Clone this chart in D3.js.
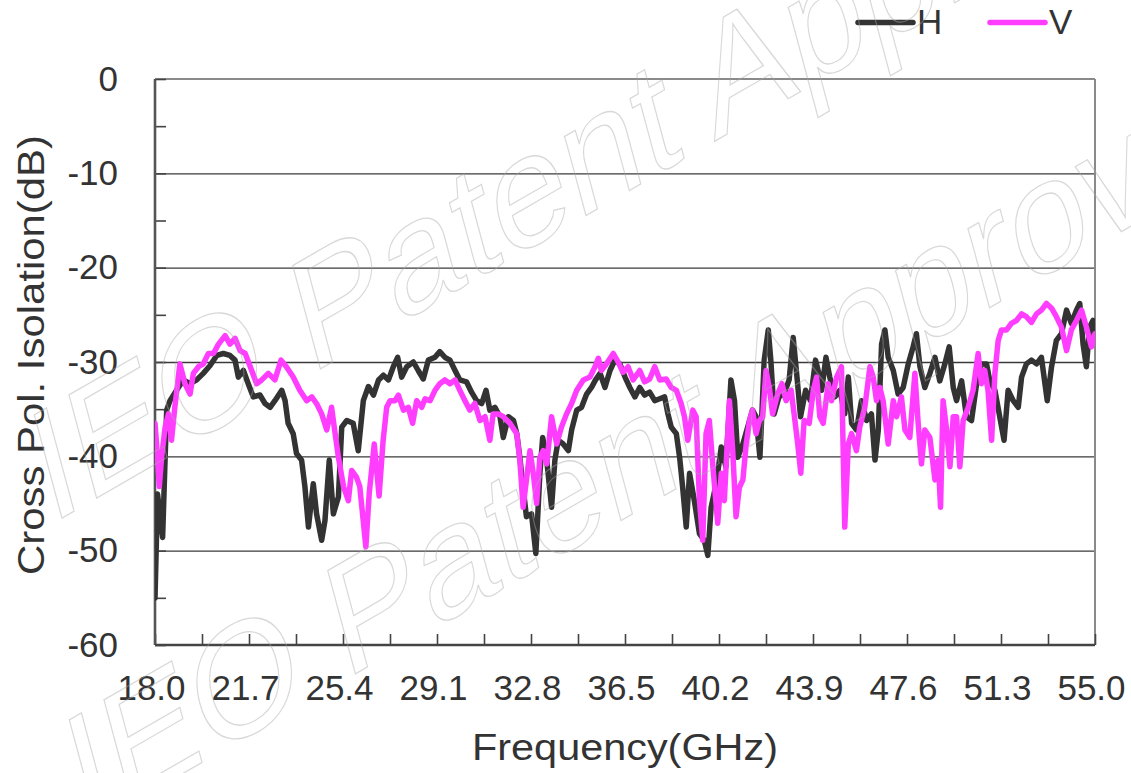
<!DOCTYPE html>
<html>
<head>
<meta charset="utf-8">
<script src="https://cdn.jsdelivr.net/npm/d3@7"></script>
<style>
    body { margin: 0; background: #fff; }
    text { font-family: "Liberation Sans", Arial, sans-serif; }
</style>
</head>
<body>
<script>
'use strict';

const plotWidth = 1131;
const plotHeight = 773;
const paddingLeft = 155;
const paddingRight = 36;
const paddingTop = 79;
const paddingBottom = 128;

// H polarisation, frequency (GHz) and isolation (dB)
let hFreq = [18.0, 18.1, 18.3, 18.4, 18.46, 18.59, 18.85, 19.11, 19.38, 19.64, 19.9, 20.16, 20.43, 20.69, 20.95,
    21.15, 21.28, 21.48, 21.67, 21.87, 22.13, 22.33, 22.53, 22.72, 22.99, 23.12, 23.24, 23.44, 23.57, 23.77,
    23.9, 24.04, 24.23, 24.36, 24.56, 24.69, 24.86, 25.02, 25.22, 25.35, 25.55, 25.8, 26.0, 26.2, 26.4,
    26.6, 26.8, 26.99, 27.19, 27.38, 27.55, 27.71, 27.91, 28.17, 28.36, 28.56, 28.76, 29.02, 29.21, 29.41,
    29.61, 29.81, 30.0, 30.26, 30.46, 30.66, 30.86, 31.03, 31.18, 31.38, 31.58, 31.71, 31.91, 32.11, 32.24,
    32.36, 32.49, 32.62, 32.82, 32.99, 33.15, 33.26, 33.42, 33.61, 33.74, 33.87, 34.07, 34.27, 34.4, 34.6,
    34.79, 34.99, 35.18, 35.34, 35.52, 35.71, 35.91, 36.1, 36.3, 36.5, 36.69, 36.89, 37.08, 37.27, 37.47,
    37.67, 37.87, 38.06, 38.19, 38.32, 38.52, 38.65, 38.77, 38.91, 39.04, 39.23, 39.43, 39.62, 39.76, 39.89,
    40.09, 40.29, 40.47, 40.67, 40.81, 40.94, 41.14, 41.33, 41.52, 41.66, 41.81, 41.98, 42.14, 42.24, 42.37,
    42.56, 42.76, 42.96, 43.12, 43.28, 43.41, 43.61, 43.8, 44.0, 44.13, 44.24, 44.41, 44.56, 44.76, 44.96,
    45.15, 45.29, 45.42, 45.61, 45.81, 46.01, 46.2, 46.34, 46.47, 46.6, 46.73, 46.86, 47.06, 47.25, 47.45,
    47.65, 47.84, 47.97, 48.11, 48.3, 48.5, 48.7, 48.89, 49.09, 49.26, 49.42, 49.55, 49.75, 49.94, 50.14,
    50.34, 50.53, 50.73, 50.86, 51.06, 51.25, 51.42, 51.58, 51.78, 51.98, 52.11, 52.3, 52.5, 52.7, 52.89,
    53.12, 53.29, 53.48, 53.68, 53.88, 54.07, 54.27, 54.4, 54.53, 54.66, 54.79, 54.92, 55.0];
let hIso = [-55, -44, -48.6, -40, -35.1, -34.1, -33.0, -31.9, -32.3, -31.9, -31.2, -30.4, -29.3, -29.1, -29.3,
    -29.8, -31.6, -30.9, -32.3, -33.7, -33.5, -34.4, -34.8, -34.1, -33.0, -34.1, -36.5, -37.6, -39.7, -40.4,
    -43.2, -47.5, -42.9, -46.1, -48.9, -46.8, -40.4, -46.1, -44.3, -36.9, -36.2, -36.5, -39.4, -34.1, -32.6,
    -33.5, -31.9, -31.4, -31.9, -30.5, -29.5, -31.6, -30.5, -30.0, -30.9, -31.8, -29.8, -29.5, -28.9, -29.5,
    -29.8, -30.9, -31.9, -32.1, -33.2, -34.1, -34.4, -33.0, -35.1, -34.8, -35.8, -38.0, -35.8, -36.2, -37.6,
    -40.1, -43.3, -46.4, -46.1, -50.3, -41.8, -38.0, -40.4, -45.4, -40.4, -38.3, -38.7, -39.4, -37.2, -35.1,
    -34.8, -33.4, -32.7, -31.9, -31.2, -32.7, -30.9, -29.8, -30.2, -31.6, -32.7, -33.7, -32.7, -33.5, -33.2,
    -34.1, -33.9, -33.7, -35.5, -36.9, -37.6, -40.1, -43.3, -47.5, -41.8, -44.7, -48.2, -48.9, -50.5, -45.4,
    -42.9, -39.0, -41.1, -31.9, -34.1, -40.1, -38.7, -36.9, -35.1, -35.8, -40.1, -29.8, -26.6, -29.8, -35.5,
    -33.7, -33.4, -31.9, -27.4, -31.9, -35.8, -33.0, -34.1, -29.8, -31.2, -33.0, -29.5, -31.6, -33.7, -33.0,
    -35.5, -31.6, -36.5, -37.2, -34.1, -36.2, -35.5, -40.4, -37.2, -28.1, -26.6, -29.5, -30.9, -33.4, -32.7,
    -30.2, -28.4, -27.0, -30.5, -32.7, -31.2, -29.5, -32.0, -30.2, -28.4, -32.7, -34.1, -32.0, -35.8, -36.2,
    -32.3, -30.2, -30.2, -32.0, -33.0, -35.8, -38.3, -33.0, -34.1, -34.8, -31.6, -30.2, -29.8, -30.2, -29.5,
    -34.1, -30.5, -27.7, -27.0, -24.5, -25.9, -24.5, -23.8, -28.1, -30.5, -26.3, -25.6, -27.0];

// V polarisation
let vFreq = [18.0, 18.07, 18.17, 18.26, 18.4, 18.53, 18.65, 18.78, 18.98, 19.18, 19.38, 19.51, 19.71, 19.9, 20.1,
    20.3, 20.5, 20.76, 20.95, 21.15, 21.35, 21.55, 21.75, 22.0, 22.2, 22.46, 22.72, 22.96, 23.17, 23.44,
    23.7, 23.97, 24.17, 24.36, 24.56, 24.76, 24.95, 25.09, 25.22, 25.42, 25.61, 25.74, 25.93, 26.06, 26.3,
    26.43, 26.63, 26.82, 26.98, 27.12, 27.25, 27.45, 27.58, 27.78, 27.97, 28.14, 28.3, 28.5, 28.63, 28.83,
    29.02, 29.21, 29.41, 29.61, 29.81, 30.0, 30.2, 30.39, 30.59, 30.79, 30.99, 31.18, 31.31, 31.51, 31.71,
    31.97, 32.24, 32.36, 32.49, 32.62, 32.76, 32.89, 33.02, 33.15, 33.28, 33.42, 33.61, 33.81, 34.0, 34.2,
    34.4, 34.6, 34.86, 35.12, 35.32, 35.45, 35.57, 35.77, 36.04, 36.23, 36.42, 36.62, 36.82, 37.08, 37.27,
    37.47, 37.67, 37.87, 38.12, 38.32, 38.52, 38.71, 38.84, 38.97, 39.17, 39.3, 39.43, 39.56, 39.69, 39.82,
    39.96, 40.15, 40.29, 40.41, 40.61, 40.74, 40.87, 41.0, 41.14, 41.27, 41.4, 41.52, 41.66, 41.79, 41.92,
    42.05, 42.18, 42.31, 42.51, 42.68, 42.84, 43.04, 43.17, 43.3, 43.42, 43.55, 43.75, 43.91, 44.04, 44.17,
    44.3, 44.5, 44.63, 44.83, 45.02, 45.15, 45.29, 45.42, 45.61, 45.74, 45.94, 46.14, 46.27, 46.4, 46.53,
    46.66, 46.86, 47.06, 47.19, 47.38, 47.52, 47.71, 47.91, 48.04, 48.17, 48.3, 48.5, 48.7, 48.83, 48.92,
    49.02, 49.16, 49.29, 49.42, 49.55, 49.68, 49.81, 50.01, 50.2, 50.4, 50.53, 50.66, 50.79, 50.93, 51.06,
    51.19, 51.32, 51.52, 51.71, 51.91, 52.11, 52.3, 52.5, 52.7, 52.89, 53.09, 53.29, 53.48, 53.68, 53.88,
    54.07, 54.27, 54.47, 54.66, 54.86, 55.0];
let vIso = [-36.5, -39.0, -43.2, -40.1, -36.9, -35.5, -38.3, -34.8, -30.2, -32.3, -33.4, -31.2, -30.5, -30.2, -29.1,
    -29.1, -28.1, -27.2, -28.1, -27.5, -28.8, -29.1, -30.5, -32.3, -31.9, -31.2, -31.9, -29.8, -30.5, -31.6,
    -33.0, -34.1, -33.7, -34.4, -35.5, -37.2, -34.8, -37.6, -40.1, -43.2, -44.7, -41.5, -42.2, -43.2, -49.6,
    -44.0, -38.7, -44.2, -38.3, -34.8, -34.1, -34.1, -33.5, -35.1, -34.8, -36.5, -34.1, -34.8, -33.9, -34.1,
    -33.0, -32.3, -31.9, -32.3, -31.9, -33.0, -34.1, -35.1, -34.4, -36.2, -35.8, -38.3, -35.5, -35.5, -35.8,
    -36.5, -37.6, -40.4, -45.4, -42.5, -39.4, -41.8, -45.0, -40.1, -39.4, -40.8, -35.8, -38.7, -36.9, -35.5,
    -34.4, -33.0, -31.9, -31.6, -30.5, -29.6, -30.9, -30.2, -29.1, -30.0, -31.1, -30.5, -31.9, -30.9, -32.1,
    -31.8, -30.5, -31.9, -31.8, -32.7, -33.0, -34.4, -35.8, -38.3, -35.1, -35.8, -44.7, -48.9, -37.6, -36.2,
    -41.1, -47.1, -41.8, -44.7, -34.1, -39.4, -46.4, -43.3, -42.5, -38.7, -36.2, -35.1, -37.6, -36.2, -35.8,
    -30.9, -32.7, -35.5, -33.4, -32.3, -34.1, -33.0, -35.8, -38.7, -41.8, -36.2, -36.5, -33.0, -31.6, -35.8,
    -36.5, -32.3, -34.1, -31.6, -30.5, -47.5, -38.7, -37.6, -39.4, -36.9, -34.8, -30.5, -31.6, -34.1, -32.7,
    -34.1, -38.7, -34.1, -35.8, -33.7, -37.2, -38.0, -31.2, -36.5, -40.8, -37.2, -38.0, -42.5, -40.4, -45.4,
    -34.1, -37.2, -41.1, -35.8, -35.8, -41.1, -36.2, -34.8, -33.0, -29.1, -32.3, -30.9, -33.0, -38.3, -31.2,
    -27.7, -26.6, -26.6, -25.9, -25.6, -24.9, -25.2, -25.8, -24.9, -24.5, -23.8, -24.3, -25.2, -26.3, -28.8,
    -26.6, -25.6, -24.5, -26.3, -28.4, -27.0];

let xLabels = [18.0, 21.7, 25.4, 29.1, 32.8, 36.5, 40.2, 43.9, 47.6, 51.3, 55.0];
let xMinor = [18.0, 19.85, 21.7, 23.55, 25.4, 27.25, 29.1, 30.95, 32.8, 34.65, 36.5, 38.35, 40.2, 42.05,
    43.9, 45.75, 47.6, 49.45, 51.3, 53.15, 55.0];
let yLabels = [0, -10, -20, -30, -40, -50, -60];
let yMinor = [0, -5, -10, -15, -20, -25, -30, -35, -40, -45, -50, -55, -60];

let series = [
    { name: 'H', freq: hFreq, iso: hIso, color: '#333333' },
    { name: 'V', freq: vFreq, iso: vIso, color: '#ff3dff' }
];

let svg = d3.select("body").append("svg").attr('width', plotWidth).attr('height', plotHeight);

let xScale = d3.scaleLinear().domain([18, 55]).range([paddingLeft, plotWidth - paddingRight]);
let yScale = d3.scaleLinear().domain([-60, 0]).range([plotHeight - paddingBottom, paddingTop]);

let x0 = xScale(18), x1 = xScale(55), yTop = yScale(0), yBot = yScale(-60);

// grid
svg.append("g")
    .attr("transform", "translate(" + x0 + ",0)")
    .call(d3.axisLeft(yScale).tickValues([-10, -20, -30, -40, -50]).tickSize(-(x1 - x0)).tickFormat(''))
    .call(g => g.select(".domain").remove())
    .selectAll("line").attr("stroke", "#3a3a3a").attr("stroke-width", 1.4);

// frame
svg.append("line").attr("x1", x0).attr("x2", x1).attr("y1", yTop).attr("y2", yTop)
    .attr("stroke", "#8a8a8a").attr("stroke-width", 2);
svg.append("line").attr("x1", x1).attr("x2", x1).attr("y1", yTop).attr("y2", yBot)
    .attr("stroke", "#8a8a8a").attr("stroke-width", 2);

// inward minor ticks
svg.append("g")
    .attr("transform", "translate(" + x0 + ",0)")
    .call(d3.axisRight(yScale).tickValues(yMinor).tickSize(11).tickFormat(''))
    .call(g => g.select(".domain").remove())
    .selectAll("line").attr("stroke", "#444").attr("stroke-width", 1.6);
svg.append("g")
    .attr("transform", "translate(0," + yBot + ")")
    .call(d3.axisTop(xScale).tickValues(xMinor).tickSize(11).tickFormat(''))
    .call(g => g.select(".domain").remove())
    .selectAll("line").attr("stroke", "#444").attr("stroke-width", 1.6);

// axis lines
svg.append("line").attr("x1", x0).attr("x2", x0).attr("y1", yTop).attr("y2", yBot)
    .attr("stroke", "#555").attr("stroke-width", 2.6);
svg.append("line").attr("x1", x0).attr("x2", x1).attr("y1", yBot).attr("y2", yBot)
    .attr("stroke", "#444").attr("stroke-width", 2.6);

// tick labels (plain hyphen for the minus sign, as in the original)
const yAxis = d3.axisLeft(yScale).tickValues(yLabels).tickSize(0).tickPadding(37).tickFormat(d => String(d));
svg.append("g")
    .attr("class", "y axis")
    .attr("transform", "translate(" + x0 + ",0)")
    .call(yAxis)
    .call(g => g.select(".domain").remove())
    .selectAll("text").attr("font-size", 35).attr("fill", "#333")
    .attr("font-family", '"Liberation Sans", Arial, sans-serif');

const xAxis = d3.axisBottom(xScale).tickValues(xLabels).tickSize(0).tickPadding(30).tickFormat(d3.format('.1f'));
svg.append("g")
    .attr("class", "x axis")
    .attr("transform", "translate(-4," + yBot + ")")
    .call(xAxis)
    .call(g => g.select(".domain").remove())
    .selectAll("text").attr("font-size", 35).attr("fill", "#333")
    .attr("font-family", '"Liberation Sans", Arial, sans-serif');

// titles
svg.append("text")
    .attr("x", 625).attr("y", 760)
    .attr("text-anchor", "middle")
    .attr("font-size", 37).attr("fill", "#333")
    .attr("textLength", 306).attr("lengthAdjust", "spacingAndGlyphs")
    .text("Frequency(GHz)");

svg.append("text")
    .attr("transform", "translate(44,355) rotate(-90)")
    .attr("text-anchor", "middle")
    .attr("font-size", 37).attr("fill", "#333")
    .attr("textLength", 440).attr("lengthAdjust", "spacingAndGlyphs")
    .text("Cross Pol. Isolation(dB)");

// data lines
svg.append("clipPath").attr("id", "plotClip")
    .append("rect").attr("x", x0).attr("y", yTop).attr("width", x1 - x0).attr("height", yBot - yTop);

let line = d3.line()
    .x(d => xScale(d[0]))
    .y(d => yScale(d[1]));

for (let s of series) {
    let pts = s.freq.map((f, i) => [f, s.iso[i]]);
    svg.append("path")
        .datum(pts)
        .attr("clip-path", "url(#plotClip)")
        .attr("fill", "none")
        .attr("stroke", s.color)
        .attr("stroke-width", 5.5)
        .attr("stroke-linejoin", "round")
        .attr("stroke-linecap", "round")
        .attr("d", line);
}

// legend
let legendX = [858, 990];
series.forEach((s, i) => {
    svg.append("line")
        .attr("x1", legendX[i]).attr("x2", legendX[i] + 55).attr("y1", 22.5).attr("y2", 22.5)
        .attr("stroke", s.color).attr("stroke-width", 5.5).attr("stroke-linecap", "round");
    svg.append("text")
        .attr("x", legendX[i] + 59).attr("y", 34)
        .attr("font-size", 35).attr("fill", "#333")
        .text(s.name);
});

// watermark (faint outlined text, as in the scanned original)
let wm = svg.append("g").attr("pointer-events", "none");
[[50, 525], [85, 830]].forEach(p => {
    wm.append("text")
        .attr("transform", "translate(" + p[0] + "," + p[1] + ") rotate(-30) skewX(-15)")
        .attr("font-size", 150)
        .attr("fill", "none")
        .attr("stroke", "#a8a8a8")
        .attr("stroke-opacity", 0.45)
        .attr("stroke-width", 1.2)
        .text("IEO Patent Approved");
});
</script>
</body>
</html>
